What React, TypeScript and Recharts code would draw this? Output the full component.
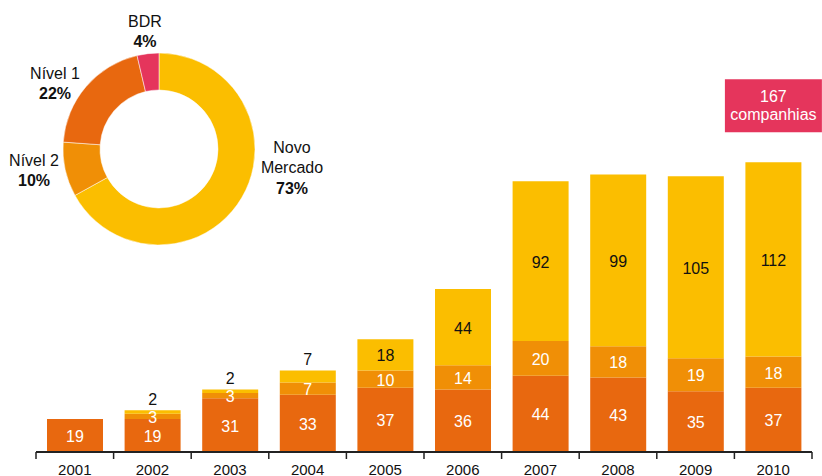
import { ComposedChart, Bar, XAxis, YAxis, LabelList, PieChart, Pie, Cell } from 'recharts'

const years = ['2001', '2002', '2003', '2004', '2005', '2006', '2007', '2008', '2009', '2010']
const nivel1 = [19, 19, 31, 33, 37, 36, 44, 43, 35, 37]
const nivel2 = [0, 3, 3, 7, 10, 14, 20, 18, 19, 18]
const novoMercado = [0, 2, 2, 7, 18, 44, 92, 99, 105, 112]

const shareNames = ['Novo Mercado', 'Nível 2', 'Nível 1', 'BDR']
const shareValues = [73, 10, 22, 4]
const shareLines = [['Novo', 'Mercado'], ['Nível 2'], ['Nível 1'], ['BDR']]
const sharePct = ['73%', '10%', '22%', '4%']

const YELLOW = '#FBBE00'
const MID = '#F08F06'
const DARK = '#E8680F'
const PINK = '#E5355C'
const FONT = '"Liberation Sans", Arial, sans-serif'

const W = 822
const H = 476
const M = { top: 105, right: 10, bottom: 0, left: 36 }
const BAND = (W - M.left - M.right) / years.length
const LAST = years.length - 1

const data = years.map((year, i) => {
  const total = nivel1[i] + nivel2[i] + novoMercado[i]
  return {
    year,
    n1: nivel1[i],
    n2: nivel2[i],
    nm: novoMercado[i],
    totalLabel: i === LAST ? total : null,
  }
})

const pieData = shareNames.map((name, i) => ({ name, value: shareValues[i] }))
const pieColors = [YELLOW, MID, DARK, PINK]
// label anchor offsets from donut centre
const pieLabelPos = [
  { dx: 133, dy: -2 },
  { dx: -125, dy: 11 },
  { dx: -104, dy: -76 },
  { dx: -14, dy: -128 },
]

function YearTick(props: any) {
  const { x, y, payload, index } = props
  const last = index === LAST
  return (
    <g>
      <line x1={x - BAND / 2} x2={x - BAND / 2} y1={y} y2={y + 7} stroke="#222" strokeWidth={1.5} />
      {last && <line x1={x + BAND / 2} x2={x + BAND / 2} y1={y} y2={y + 7} stroke="#222" strokeWidth={1.5} />}
      <text x={x} y={y + 17} textAnchor="middle" dominantBaseline="central" fontSize={15} fill="#111" fontFamily={FONT}>
        {payload.value}
      </text>
    </g>
  )
}

function InnerLabel(props: any) {
  const { x, y, width, height, value } = props
  if (!value) return null
  return (
    <text x={x + width / 2} y={y + height / 2 + 1} textAnchor="middle" dominantBaseline="central" fontSize={16} fill="#fff" fontFamily={FONT}>
      {value}
    </text>
  )
}

function TopLabel(props: any) {
  const { x, y, width, height, value } = props
  if (!value) return null
  const cy = height < 20 ? y - 11 : y + height / 2 + 1
  return (
    <text x={x + width / 2} y={cy} textAnchor="middle" dominantBaseline="central" fontSize={16} fill="#111" fontFamily={FONT}>
      {value}
    </text>
  )
}

function TotalBox(props: any) {
  const { x, y, width, value } = props
  if (value == null || value === '') return null
  const cx = x + width / 2
  const bw = 97
  const bh = 53
  const top = y - 30 - bh
  return (
    <g>
      <rect x={cx - bw / 2} y={top} width={bw} height={bh} fill={PINK} />
      <text x={cx} y={top + 17} textAnchor="middle" dominantBaseline="central" fontSize={16} fill="#fff" fontFamily={FONT}>
        {value}
      </text>
      <text x={cx} y={top + 35} textAnchor="middle" dominantBaseline="central" fontSize={16} fill="#fff" fontFamily={FONT}>
        companhias
      </text>
    </g>
  )
}

function PieLabel(props: any) {
  const { cx, cy, index } = props
  const p = pieLabelPos[index]
  const lines = shareLines[index]
  const lx = cx + p.dx
  return (
    <g fontFamily={FONT} fontSize={16}>
      {lines.map((l, i) => (
        <text key={i} x={lx} y={cy + p.dy + i * 20.5} textAnchor="middle" dominantBaseline="central" fill="#111">
          {l}
        </text>
      ))}
      <text x={lx} y={cy + p.dy + lines.length * 20.5} textAnchor="middle" dominantBaseline="central" fill="#111" fontWeight="bold">
        {sharePct[index]}
      </text>
    </g>
  )
}

export default function App() {
  return (
    <div style={{ position: 'absolute', left: 0, top: 0, width: W, height: H, background: '#fff' }}>
      <ComposedChart width={W} height={H} data={data} margin={M}>
        <XAxis
          dataKey="year"
          height={24}
          axisLine={{ stroke: '#222', strokeWidth: 2 }}
          tickLine={false}
          tickSize={0}
          tickMargin={0}
          interval={0}
          tick={<YearTick />}
        />
        <YAxis hide domain={[0, 200]} />
        <Bar dataKey="n1" stackId="a" fill={DARK} barSize={56} isAnimationActive={false}>
          <LabelList dataKey="n1" content={<InnerLabel />} />
        </Bar>
        <Bar dataKey="n2" stackId="a" fill={MID} barSize={56} isAnimationActive={false}>
          <LabelList dataKey="n2" content={<InnerLabel />} />
        </Bar>
        <Bar dataKey="nm" stackId="a" fill={YELLOW} barSize={56} isAnimationActive={false}>
          <LabelList dataKey="nm" content={<TopLabel />} />
          <LabelList dataKey="totalLabel" content={<TotalBox />} />
        </Bar>
      </ComposedChart>
      <div style={{ position: 'absolute', left: 0, top: 0 }}>
        <PieChart width={340} height={250} margin={{ top: 0, right: 0, bottom: 0, left: 0 }}>
          <Pie
            data={pieData}
            dataKey="value"
            cx={159}
            cy={149}
            innerRadius={59}
            outerRadius={96}
            startAngle={90}
            endAngle={-270}
            stroke="#fff"
            strokeWidth={0.5}
            label={<PieLabel />}
            labelLine={false}
            isAnimationActive={false}
          >
            {pieData.map((d, i) => (
              <Cell key={d.name} fill={pieColors[i]} />
            ))}
          </Pie>
        </PieChart>
      </div>
    </div>
  )
}
